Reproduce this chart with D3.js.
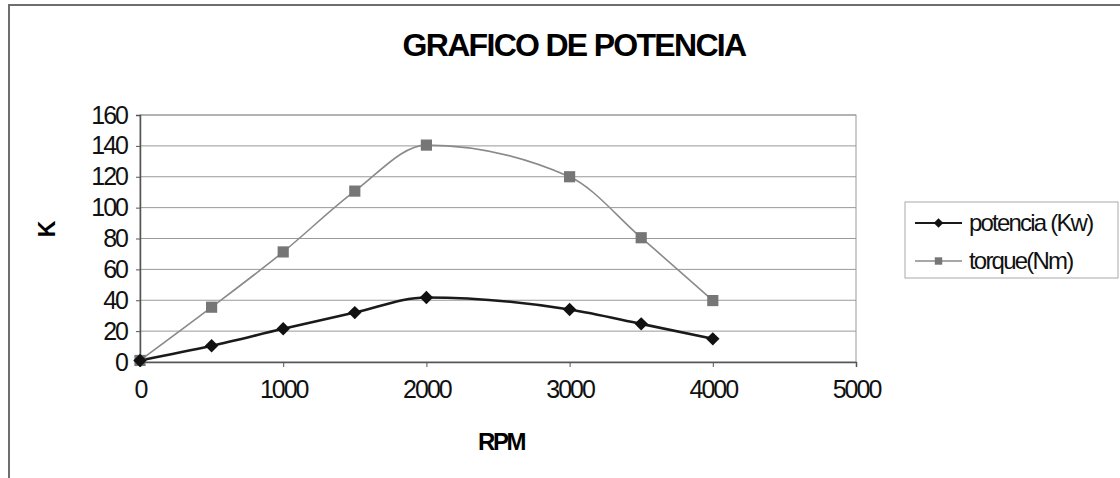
<!DOCTYPE html>
<html><head><meta charset="utf-8">
<script src="https://cdn.jsdelivr.net/npm/d3@7"></script>
<style>body{margin:0;background:#fff}svg{display:block;font-family:"Liberation Sans",Arial,sans-serif}</style>
</head><body><svg id="c" width="1120" height="478"></svg>
<script>
const rpm = [0, 500, 1000, 1500, 2000, 3000, 3500, 4000];
const potencia = [1, 10.5, 21.5, 32, 41.8, 34, 24.7, 15];
const torque = [1, 35.5, 71.3, 110.7, 140.5, 120, 80.5, 39.8];
const xTicks = [0, 1000, 2000, 3000, 4000, 5000];
const yTicks = [0, 20, 40, 60, 80, 100, 120, 140, 160];
const seriesNames = ["potencia (Kw)", "torque(Nm)"];

const svg = d3.select("#c");
const L = 140, R = 856, T = 115, B = 362;
const x = d3.scaleLinear().domain([0, 5000]).range([L, R]);
const y = d3.scaleLinear().domain([0, 160]).range([B, T]);

// outer frame
svg.append("path").attr("d", `M9,478 V5 H1120`).attr("fill", "none").attr("stroke", "#6e6e6e").attr("stroke-width", 2);

// title
svg.append("text").attr("x", 574).attr("y", 56).attr("text-anchor", "middle")
  .attr("font-size", 32).attr("font-weight", "bold").attr("letter-spacing", -1.7).text("GRAFICO DE POTENCIA");

// gridlines
svg.append("g").selectAll("line").data(yTicks.slice(1)).join("line")
  .attr("x1", L).attr("x2", R).attr("y1", d => y(d)).attr("y2", d => y(d))
  .attr("stroke", "#999").attr("stroke-width", 1);
// plot border
svg.append("rect").attr("x", L).attr("y", T).attr("width", R - L).attr("height", B - T)
  .attr("fill", "none").attr("stroke", "#999");

// axes
const ya = svg.append("g").attr("transform", `translate(${L},0)`)
  .call(d3.axisLeft(y).tickValues(yTicks).tickSize(4).tickPadding(9));
const xa = svg.append("g").attr("transform", `translate(0,${B})`)
  .call(d3.axisBottom(x).tickValues(xTicks).tickFormat(d3.format("d")).tickSize(5).tickPadding(13));
[ya, xa].forEach(g => {
  g.select(".domain").attr("stroke", "#555").attr("stroke-width", 1.5);
  g.selectAll(".tick line").attr("stroke", "#555");
  g.selectAll("text").attr("font-size", 25).attr("fill", "#111").attr("font-family", "Liberation Sans, Arial").attr("letter-spacing", -2);
});
xa.selectAll("text").attr("dy", "0.71em");

// axis titles
svg.append("text").attr("x", 501).attr("y", 450).attr("text-anchor", "middle")
  .attr("font-size", 24).attr("font-weight", "bold").attr("letter-spacing", -2.5).text("RPM");
svg.append("text").attr("transform", "translate(55,229) rotate(-90)").attr("text-anchor", "middle")
  .attr("font-size", 23).attr("font-weight", "bold").text("K");

const line = d3.line().curve(d3.curveMonotoneX);
const tData = rpm.map((r, i) => [x(r), y(torque[i])]);
const pData = rpm.map((r, i) => [x(r), y(potencia[i])]);

svg.append("path").attr("d", line(tData)).attr("fill", "none").attr("stroke", "#8a8a8a").attr("stroke-width", 1.6);
svg.append("path").attr("d", line(pData)).attr("fill", "none").attr("stroke", "#1a1a1a").attr("stroke-width", 2.6);

const sq = d3.symbol().type(d3.symbolSquare).size(125);
const dm = d3.symbol().type(d3.symbolSquare).size(90);
svg.append("g").selectAll("path").data(tData).join("path")
  .attr("transform", d => `translate(${d[0]},${d[1]})`).attr("d", sq).attr("fill", "#767676");
svg.append("g").selectAll("path").data(pData).join("path")
  .attr("transform", d => `translate(${d[0]},${d[1]}) rotate(45)`).attr("d", dm).attr("fill", "#111");

// legend
const lg = svg.append("g");
lg.append("rect").attr("x", 905).attr("y", 202).attr("width", 213).attr("height", 76)
  .attr("fill", "#fff").attr("stroke", "#aaa");
const ly = [223, 261];
const styles = [{c: "#1a1a1a", w: 2, f: "#111"}, {c: "#8a8a8a", w: 1.6, f: "#767676"}];
seriesNames.forEach((n, i) => {
  lg.append("line").attr("x1", 915).attr("x2", 962).attr("y1", ly[i]).attr("y2", ly[i])
    .attr("stroke", styles[i].c).attr("stroke-width", styles[i].w);
  lg.append("path").attr("transform", `translate(938.5,${ly[i]})${i === 0 ? " rotate(45)" : ""}`)
    .attr("d", d3.symbol().type(d3.symbolSquare).size(i === 0 ? 45 : 55)).attr("fill", styles[i].f);
  lg.append("text").attr("x", 969).attr("y", ly[i] + 8).attr("font-size", 24).attr("letter-spacing", -1.8)
    .attr("fill", "#111").text(n);
});
</script></body></html>
